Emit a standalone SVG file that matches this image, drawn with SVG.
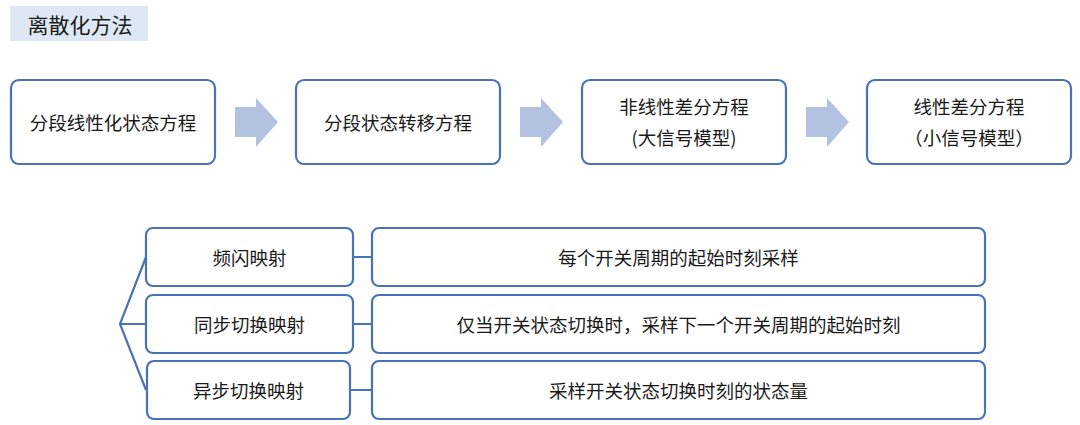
<svg xmlns="http://www.w3.org/2000/svg" width="1080" height="425" viewBox="0 0 1080 425">
<style>
text{font-family:"Noto Sans CJK SC","Microsoft YaHei",sans-serif;fill:#1a1a1a;font-size:18.5px;text-anchor:middle;dominant-baseline:central}
.box{fill:#fff;stroke:#4a72b8;stroke-width:2.2}
.arr{fill:#b4c2e2}
.ln{stroke:#4a72b8;stroke-width:2.2;fill:none}
</style>
<rect width="1080" height="425" fill="#fff"/>
<g id="title"><rect x="10" y="6" width="138" height="35" fill="#dde8f4"/><text x="80" y="23.5" style="font-size:21px">离散化方法</text></g>
<g id="n1"><rect class="box" x="11" y="80" width="204" height="84" rx="8"/><text x="113" y="122">分段线性化状态方程</text></g>
<g id="n2"><rect class="box" x="296" y="80" width="204" height="84" rx="8"/><text x="398" y="122">分段状态转移方程</text></g>
<g id="n3"><rect class="box" x="582" y="80" width="204" height="84" rx="8"/><text x="684" y="106">非线性差分方程</text><text x="684" y="137">(大信号模型)</text></g>
<g id="n4"><rect class="box" x="867" y="80" width="204" height="84" rx="8"/><text x="969" y="106">线性差分方程</text><text x="969" y="137">（小信号模型）</text></g>
<g id="m1"><rect class="box" x="146" y="228" width="207" height="58" rx="7"/><text x="249.5" y="257">频闪映射</text></g>
<g id="m2"><rect class="box" x="146" y="295" width="207" height="58" rx="7"/><text x="249.5" y="324">同步切换映射</text></g>
<g id="m3"><rect class="box" x="147" y="361" width="203" height="58" rx="7"/><text x="248.5" y="390">异步切换映射</text></g>
<g id="d1"><rect class="box" x="372" y="228" width="613" height="58" rx="7"/><text x="678.5" y="257">每个开关周期的起始时刻采样</text></g>
<g id="d2"><rect class="box" x="372" y="295" width="613" height="58" rx="7"/><text x="678.5" y="324">仅当开关状态切换时，采样下一个开关周期的起始时刻</text></g>
<g id="d3"><rect class="box" x="372" y="361" width="613" height="58" rx="7"/><text x="678.5" y="390">采样开关状态切换时刻的状态量</text></g>
<g id="connectors">
<polygon class="arr" points="235,107 256,107 256,98 278,122 256,147 256,137 235,137"/>
<polygon class="arr" points="520,107 541,107 541,98 563,122 541,147 541,137 520,137"/>
<polygon class="arr" points="806,107 827,107 827,98 849,122 827,147 827,137 806,137"/>
<path class="ln" d="M146,257 L120,324 L146,390 M120,324 H146"/>
<path class="ln" d="M353,257 H372 M353,324 H372 M350,390 H372"/>
</g>
</svg>
